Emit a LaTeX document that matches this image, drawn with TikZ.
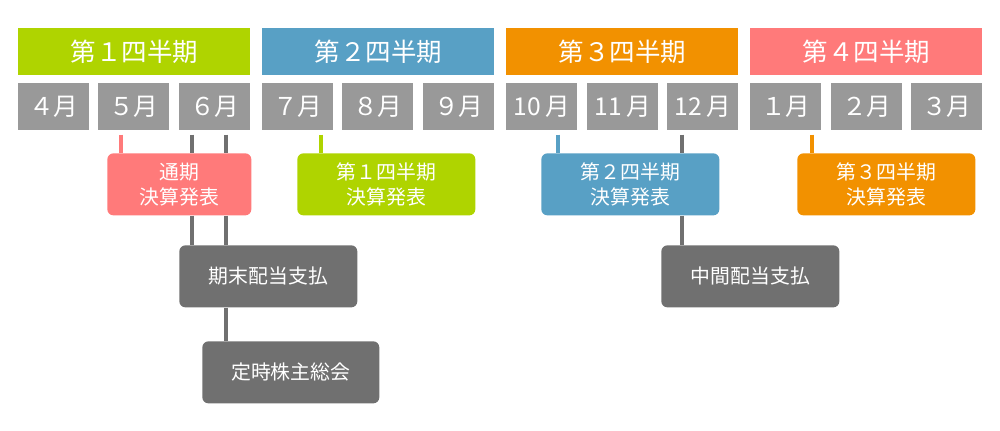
\documentclass[tikz,border=0pt]{standalone}
\usepackage{fontspec}
\setmainfont{Noto Sans CJK JP}
\usepackage{xcolor}
\usepackage{tikz}
\usetikzlibrary{calc}
\definecolor{qgreen}{HTML}{AFD400}
\definecolor{qblue}{HTML}{58A0C5}
\definecolor{qorange}{HTML}{F29100}
\definecolor{qpink}{HTML}{FF7A7A}
\definecolor{mgrey}{HTML}{999999}
\definecolor{dgrey}{HTML}{707070}
\tikzset{
  qhead/.style={fill=#1,text=white,anchor=north west,inner sep=0pt,minimum width=4.64cm,minimum height=0.94cm,font=\fontsize{14.5}{17}\selectfont},
  month/.style={fill=mgrey,text=white,anchor=north west,inner sep=0pt,minimum width=1.42cm,minimum height=0.94cm,font=\fontsize{14}{17}\selectfont},
  event/.style={fill=#1,text=white,rounded corners=0.12cm,anchor=north west,inner sep=0pt,minimum width=3.56cm,minimum height=1.24cm,align=center,font=\fontsize{11.3}{14.2}\selectfont},
  link/.style={line width=2.3pt}
}

\begin{document}
\begin{tikzpicture}[x=0.02cm,y=-0.02cm]
\useasboundingbox (0,0) rectangle (1000,430);
% quarters
\node[qhead=qgreen] (q1) at (18,28) {第１四半期};
\node[qhead=qblue] (q2) at (262,28) {第２四半期};
\node[qhead=qorange] (q3) at (506,28) {第３四半期};
\node[qhead=qpink] (q4) at (750,28) {第４四半期};
% months
\node[month] (m4) at (18,83) {４月};
\node[month] (m5) at (98,83) {５月};
\node[month] (m6) at (179,83) {６月};
\node[month] (m7) at (262,83) {７月};
\node[month] (m8) at (342,83) {８月};
\node[month] (m9) at (423,83) {９月};
\node[month] (m10) at (506,83) {10\hspace{0.2em}月};
\node[month] (m11) at (587,83) {11\hspace{0.2em}月};
\node[month] (m12) at (667,83) {12\hspace{0.2em}月};
\node[month] (m1) at (750,83) {１月};
\node[month] (m2) at (831,83) {２月};
\node[month] (m3) at (911,83) {３月};
% events
\node[event=qpink,minimum width=2.88cm] (tsuuki) at (107,153) {通期\\決算発表};
\node[event=qgreen] (kessan1) at (297,153) {第１四半期\\決算発表};
\node[event=qblue] (kessan2) at (541,153) {第２四半期\\決算発表};
\node[event=qorange] (kessan3) at (797,153) {第３四半期\\決算発表};
\node[event=dgrey] (kimatsu) at (179,245) {期末配当支払};
\node[event=dgrey,minimum width=3.54cm] (teiji) at (202,341) {定時株主総会};
\node[event=dgrey] (chukan) at (661,245) {中間配当支払};
% links
\path ($(m5.south west)+(23,4)$) coordinate (l5)
      ($(m6.south west)+(13,4)$) coordinate (l6a)
      ($(m6.south west)+(47,4)$) coordinate (l6b)
      ($(m7.south west)+(59,4)$) coordinate (l7)
      ($(m10.south west)+(52,4)$) coordinate (l10)
      ($(m12.south west)+(15,4)$) coordinate (l12)
      ($(m1.south west)+(62,4)$) coordinate (l1);
\draw[link,qpink] (l5) -- (l5 |- tsuuki.north);
\draw[link,qgreen] (l7) -- (l7 |- kessan1.north);
\draw[link,qblue] (l10) -- (l10 |- kessan2.north);
\draw[link,qorange] (l1) -- (l1 |- kessan3.north);
\draw[link,dgrey] (l6a) -- (l6a |- tsuuki.north) (l6a |- tsuuki.south) -- (l6a |- kimatsu.north);
\draw[link,dgrey] (l6b) -- (l6b |- tsuuki.north) (l6b |- tsuuki.south) -- (l6b |- kimatsu.north);
\draw[link,dgrey] (l6b |- kimatsu.south) -- (l6b |- teiji.north);
\draw[link,dgrey] (l12) -- (l12 |- kessan2.north) (l12 |- kessan2.south) -- (l12 |- chukan.north);
\end{tikzpicture}
\end{document}
